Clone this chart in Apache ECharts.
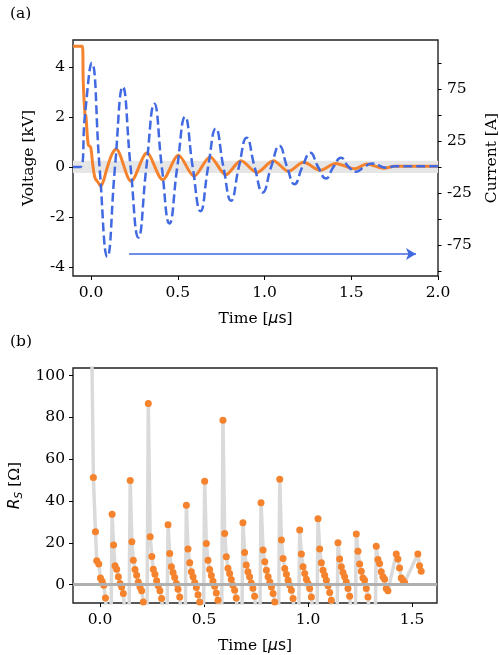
<!DOCTYPE html>
<html>
<head>
<meta charset="utf-8">
<script src="https://cdn.jsdelivr.net/npm/echarts@6/dist/echarts.min.js"></script>
<style>
  html, body { margin: 0; padding: 0; background: #fff; }
  #chart { width: 499px; height: 655px; }
</style>
</head>
<body>
<div id="chart"></div>
<script>
// (a) voltage [kV] and current [A] vs time [us]
const voltT = [-0.104, -0.05, -0.045, -0.035, -0.03, -0.016, -0.002, 0.010, 0.023, 0.042, 0.056, 0.071, 0.090, 0.119, 0.144,
  0.231, 0.322, 0.413, 0.504, 0.594, 0.686, 0.777, 0.864, 0.956, 1.051, 1.138, 1.225, 1.321, 1.41, 1.52, 1.59, 1.687, 1.75, 2.0];
const voltV = [4.83, 4.83, 3.43, 2.1, 2.05, 0.89, 0.79, 0.09, -0.44, -0.63, -0.77, -0.57, -0.1, 0.49, 0.72,
  -0.57, 0.56, -0.51, 0.47, -0.37, 0.40, -0.31, 0.25, -0.22, 0.25, -0.17, 0.19, -0.13, 0.14, -0.07, 0.12, -0.05, 0.03, 0.03];

const currT = [-0.104, -0.062, -0.035, 0.004, 0.049, 0.094, 0.138, 0.183, 0.228, 0.273, 0.319, 0.365, 0.408, 0.452, 0.497,
  0.542, 0.586, 0.631, 0.675, 0.719, 0.763, 0.807, 0.852, 0.897, 0.943, 0.990, 1.038, 1.086, 1.130, 1.173, 1.218,
  1.264, 1.309, 1.354, 1.397, 1.441, 1.485, 1.529, 1.574, 1.619, 1.705, 1.75, 2.0];
const currI = [0, 0, 50, 100, 0, -86.3, 0, 77.1, 0, -67.8, 0, 60.7, 0, -54.3, 0,
  48.2, 0, -42.5, 0, 37.0, 0, -32.5, 0, 28.1, 0, -24.5, 0, 20.4, 0, -16.5, 0,
  13.6, 0, -11, 0, 8.8, 0, -4.6, 0, 3.4, -0.8, 0.8, 0.8];

// (b) R_S [Ohm] vs time [us]
const rsT = [-0.040,
  -0.032, -0.022, -0.016, -0.006, 0.002, 0.010, 0.018, 0.026, 0.034, 0.050,
  0.058, 0.065, 0.072, 0.080, 0.088, 0.096, 0.104, 0.112, 0.120, 0.137,
  0.145, 0.153, 0.160, 0.168, 0.176, 0.184, 0.192, 0.200, 0.208, 0.216, 0.224,
  0.232, 0.241, 0.249, 0.256, 0.264, 0.272, 0.280, 0.288, 0.296, 0.304, 0.319,
  0.327, 0.335, 0.343, 0.351, 0.359, 0.367, 0.375, 0.383, 0.391, 0.407,
  0.415, 0.423, 0.431, 0.439, 0.447, 0.455, 0.463, 0.471, 0.479, 0.487, 0.495,
  0.503, 0.511, 0.519, 0.527, 0.535, 0.543, 0.551, 0.559, 0.567, 0.575, 0.583,
  0.591, 0.599, 0.607, 0.615, 0.623, 0.631, 0.639, 0.647, 0.655, 0.663, 0.679,
  0.687, 0.695, 0.703, 0.711, 0.719, 0.727, 0.735, 0.743, 0.751, 0.766,
  0.774, 0.784, 0.792, 0.800, 0.808, 0.816, 0.824, 0.832, 0.840, 0.848, 0.856,
  0.864, 0.872, 0.880, 0.888, 0.896, 0.904, 0.912, 0.920, 0.928, 0.936, 0.952,
  0.960, 0.968, 0.976, 0.984, 0.992, 1.000, 1.008, 1.016, 1.024, 1.040,
  1.048, 1.056, 1.064, 1.072, 1.080, 1.088, 1.096, 1.104, 1.112, 1.120, 1.136,
  1.144, 1.152, 1.160, 1.168, 1.176, 1.184, 1.192, 1.200, 1.208, 1.224,
  1.232, 1.240, 1.248, 1.256, 1.264, 1.272, 1.280, 1.288, 1.296, 1.320,
  1.328, 1.336, 1.344, 1.352, 1.360, 1.368, 1.376, 1.384,
  1.424, 1.432, 1.440, 1.448, 1.456, 1.464,
  1.528, 1.536, 1.544];
const rsV = [115,
  51.2, 25.3, 11.4, 9.8, 3.2, 1.6, -0.3, -6.4, -16, -45,
  33.6, 18.9, 9.0, 7.4, 3.7, 0.5, -1.1, -4.3, -14, -45,
  49.8, 20.5, 11.7, 7.2, 4.5, 1.3, -1.1, -3.0, -8.3, -18, -45,
  86.6, 22.9, 13.4, 7.4, 5.0, 1.8, -0.6, -3.0, -6.7, -16, -45,
  28.6, 14.9, 8.5, 5.8, 3.4, 0.5, -2.2, -5.9, -15, -45,
  37.9, 17.0, 10.4, 6.2, 3.7, 1.0, -1.4, -4.8, -8.3, -18, -45,
  49.4, 19.7, 11.7, 7.2, 4.3, 1.6, -0.8, -4.0, -7.5, -17, -45,
  78.6, 24.5, 13.3, 7.8, 5.3, 2.4, -0.3, -2.7, -6.4, -16, -45,
  29.6, 15.4, 9.4, 6.2, 3.7, 0.8, -1.8, -5.6, -15, -45,
  39.2, 16.5, 10.9, 6.9, 3.7, 1.3, -1.1, -4.3, -8.3, -18, -45,
  50.4, 21.3, 12.5, 7.7, 5.0, 2.1, -0.3, -2.7, -6.7, -16, -45,
  26.1, 14.6, 8.5, 5.3, 2.6, 0.5, -1.9, -5.9, -15, -45,
  31.5, 17.0, 10.4, 6.9, 4.5, 2.1, -0.5, -3.8, -7.5, -17, -45,
  20.0, 12.2, 8.5, 5.8, 3.7, 1.3, -1.9, -5.6, -15, -45,
  24.2, 16.0, 9.8, 6.4, 3.2, 2.1, -1.9, -5.9, -15, -40,
  18.4, 12.0, 10.1, 6.1, 3.7, 2.6, -1.9, -3.0,
  14.6, 12.2, 8.0, 3.2, 2.1, 1.0,
  14.6, 9.0, 6.4];

const xTicksA = [0, 0.5, 1, 1.5, 2];
const xTicksB = [0, 0.5, 1, 1.5];
const voltTicks = [-4, -2, 0, 2, 4];
const currLabels = [-75, -25, 25, 75];
const currTicks = [-100, -75, -50, -25, 0, 25, 50, 75, 100];
const rsTicks = [0, 20, 40, 60, 80, 100];

const zip = (a, b) => a.map((v, i) => [v, b[i]]);

const SERIF = 'DejaVu Serif';
const FS = 15.5;
const ORANGE = '#f5832d';
const BLUE = '#4169e1';

const nameRich = {
  a: { fontFamily: SERIF, fontSize: FS, color: '#000', lineHeight: 20 },
  i: { fontFamily: 'DejaVu Sans', fontStyle: 'italic', fontSize: FS, color: '#000', lineHeight: 20 },
  u: { fontFamily: 'DejaVu Sans', fontSize: FS, color: '#000', lineHeight: 20 },
  sub: { fontFamily: 'DejaVu Sans', fontStyle: 'italic', fontSize: 10.5, color: '#000', lineHeight: 10, verticalAlign: 'bottom' }
};

const noLine = { show: false, onZero: false };

const baseX = (gridIndex, min, max, ticks) => ({
  type: 'value', gridIndex, min, max,
  name: '{a|Time [}{i|μ}{u|s}{a|]}',
  nameLocation: 'middle', nameGap: 33,
  nameTextStyle: { rich: nameRich },
  axisLine: noLine,
  splitLine: { show: false },
  axisTick: { show: true, length: 4, customValues: ticks, lineStyle: { color: '#000' } },
  axisLabel: {
    customValues: ticks, margin: 9, color: '#000', fontFamily: SERIF, fontSize: FS,
    formatter: v => v.toFixed(1)
  }
});

const chart = echarts.init(document.getElementById('chart'));

chart.setOption({
  animation: false,
  backgroundColor: '#fff',
  grid: [
    { left: 73, top: 40, width: 365, height: 236, outerBoundsMode: 'none', containLabel: false,
      show: true, borderColor: '#222', borderWidth: 1.4, backgroundColor: 'transparent' },
    { left: 73, top: 368, width: 364, height: 235, outerBoundsMode: 'none', containLabel: false,
      show: true, borderColor: '#222', borderWidth: 1.4, backgroundColor: 'transparent' }
  ],
  graphic: [
    { type: 'text', left: 10, top: 6, style: { text: '(a)', font: FS + 'px "DejaVu Serif"', fill: '#000' } },
    { type: 'text', left: 10, top: 334, style: { text: '(b)', font: FS + 'px "DejaVu Serif"', fill: '#000' } }
  ],
  xAxis: [
    baseX(0, -0.104, 2.0, xTicksA),
    baseX(1, -0.13, 1.62, xTicksB)
  ],
  yAxis: [
    {
      type: 'value', gridIndex: 0, min: -4.36, max: 5.08, position: 'left',
      name: 'Voltage [kV]', nameLocation: 'middle', nameGap: 36,
      nameTextStyle: { fontFamily: SERIF, fontSize: FS, color: '#000' },
      axisLine: noLine, splitLine: { show: false },
      axisTick: { show: true, length: 4, customValues: voltTicks, lineStyle: { color: '#000' } },
      axisLabel: { customValues: voltTicks, margin: 8, color: '#000', fontFamily: SERIF, fontSize: FS }
    },
    {
      type: 'value', gridIndex: 0, min: -104.8, max: 122.1, position: 'right',
      name: 'Current [A]', nameLocation: 'middle', nameGap: 46, nameRotate: 90,
      nameTextStyle: { fontFamily: SERIF, fontSize: FS, color: '#000' },
      axisLine: noLine, splitLine: { show: false },
      axisTick: { show: true, length: 3.5, customValues: currTicks, lineStyle: { color: '#000' } },
      axisLabel: { customValues: currLabels, margin: 9, color: '#000', fontFamily: SERIF, fontSize: FS }
    },
    {
      type: 'value', gridIndex: 1, min: -8.8, max: 103.6, position: 'left',
      name: '{i|R}{sub|S}{a| [Ω]}', nameLocation: 'middle', nameGap: 46,
      nameTextStyle: { rich: nameRich },
      axisLine: noLine, splitLine: { show: false },
      axisTick: { show: true, length: 4, customValues: rsTicks, lineStyle: { color: '#000' } },
      axisLabel: { customValues: rsTicks, margin: 8, color: '#000', fontFamily: SERIF, fontSize: FS }
    }
  ],
  series: [
    {
      // grey band around zero
      type: 'line', xAxisIndex: 0, yAxisIndex: 0, data: [], silent: true, z: 1,
      markArea: {
        silent: true,
        itemStyle: { color: '#e6e6e6' },
        data: [[{ yAxis: -0.24 }, { yAxis: 0.25 }]]
      }
    },
    {
      name: 'Voltage', type: 'line', xAxisIndex: 0, yAxisIndex: 0,
      data: zip(voltT, voltV), showSymbol: false, smooth: 0.3, z: 3,
      lineStyle: { color: ORANGE, width: 3 },
      markLine: {
        silent: true, symbol: ['none', 'arrow'], symbolSize: [9, 10],
        label: { show: false },
        lineStyle: { color: BLUE, width: 1.6, type: 'solid' },
        data: [[{ coord: [0.219, -3.48] }, { coord: [1.873, -3.48] }]]
      }
    },
    {
      name: 'Current', type: 'line', xAxisIndex: 0, yAxisIndex: 1,
      data: zip(currT, currI), showSymbol: false, smooth: 0.5, z: 4,
      lineStyle: { color: BLUE, width: 2.5, type: [9, 4] }
    },
    {
      name: 'Rs', type: 'line', xAxisIndex: 1, yAxisIndex: 2,
      data: zip(rsT, rsV), clip: true,
      symbol: 'circle', symbolSize: 7, showAllSymbol: true,
      itemStyle: { color: ORANGE },
      lineStyle: { color: '#dadada', width: 3.5 },
      markLine: {
        silent: true, symbol: 'none', label: { show: false },
        lineStyle: { color: '#b0b0b0', width: 3, type: 'solid' },
        data: [{ yAxis: 0 }]
      }
    }
  ]
});
</script>
</body>
</html>
